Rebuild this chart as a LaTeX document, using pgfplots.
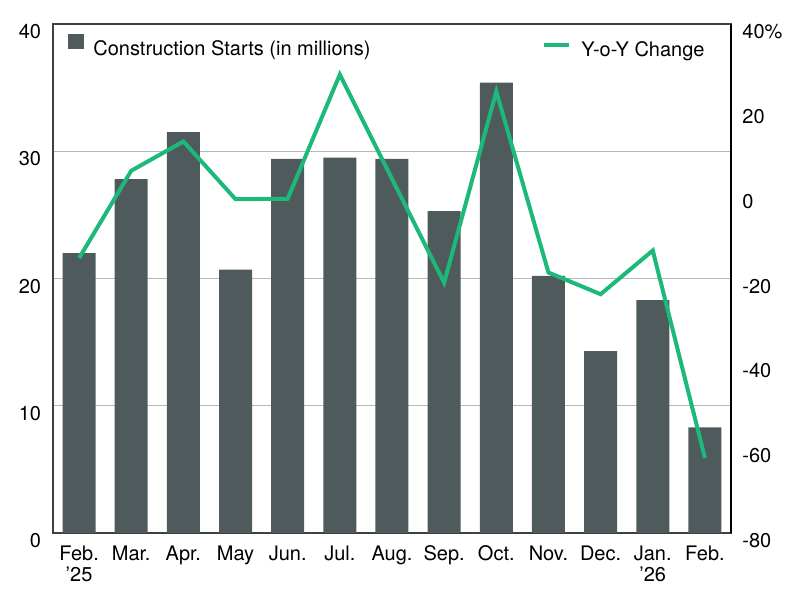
\documentclass[border=0pt]{standalone}
\usepackage{fontspec}
\setmainfont{TeX Gyre Heros}
\usepackage{pgfplots}
\pgfplotsset{compat=1.18}
\definecolor{barc}{HTML}{4E5A5C}
\definecolor{linec}{HTML}{1DB97A}
\begin{document}
\begin{tikzpicture}[font=\fontsize{10}{10.5}\selectfont]
\path[use as bounding box] (-26.5pt,-33.5pt) rectangle (373.5pt,266.5pt);
\begin{axis}[
  at={(0,0)}, anchor=south west,
  scale only axis, width=339pt, height=254.5pt,
  xmin=-0.5, xmax=12.5, ymin=0, ymax=40,
  ybar, bar width=16.5pt,
  ytick={0,10,20,30,40},
  xtick={0,...,12},
  xticklabels={{Feb.\\’25},Mar.,Apr.,May,Jun.,Jul.,Aug.,Sep.,Oct.,Nov.,Dec.,{Jan.\\’26},Feb.},
  major tick length=0pt,
  /pgf/number format/assume math mode=true,
  tick label style={font=\fontsize{10}{10.5}\selectfont},
  xticklabel style={anchor=north, inner sep=0pt, yshift=-6.3pt, align=center},
  yticklabel style={anchor=north east, inner sep=0pt, xshift=-5.8pt},
  ymajorgrids, grid style={draw=black!28, line width=0.5pt},
  axis line style={draw=black!75, line width=0.6pt},
  legend style={at={(0,1)}, anchor=north west, xshift=7.5pt, yshift=-5pt,
    draw=none, fill=none, inner sep=0pt, column sep=4.5pt,
    nodes={inner sep=0pt}, font=\fontsize{10}{10.5}\selectfont},
  legend image code/.code={\path[draw=none, fill=none] (0pt,-2.1pt) rectangle (8pt,7.5pt);
    \fill[barc, draw=none] (0pt,0.3pt) rectangle (8pt,7.8pt);},
]
\addplot[fill=barc, draw=none] coordinates {
 (0,22.0) (1,27.8) (2,31.5) (3,20.7) (4,29.4) (5,29.5) (6,29.4)
 (7,25.3) (8,35.4) (9,20.2) (10,14.3) (11,18.3) (12,8.3)};
\addlegendentry{Construction Starts (in millions)}
\end{axis}
\begin{axis}[
  at={(0,0)}, anchor=south west,
  scale only axis, width=339pt, height=254.5pt,
  xmin=-0.5, xmax=12.5, ymin=-80, ymax=40,
  axis x line=none, axis y line*=right,
  axis line style={draw=black, line width=0.6pt},
  ytick={-80,-60,-40,-20,0,20,40},
  yticklabels={-80,-60,-40,-20,0,20,40\%},
  major tick length=0pt,
  tick label style={font=\fontsize{10}{10.5}\selectfont},
  yticklabel style={anchor=north west, inner sep=0pt, xshift=5.5pt},
  legend style={at={(1,1)}, anchor=north east, xshift=-13pt, yshift=-5.5pt,
    draw=none, fill=none, inner sep=0pt, column sep=5pt,
    nodes={inner sep=0pt}, font=\fontsize{10}{10.5}\selectfont},
  legend image code/.code={\path[draw=none, fill=none] (0pt,-2.1pt) rectangle (12.5pt,7.5pt);
    \draw[linec, line width=2pt] (0pt,2.7pt) -- (12.5pt,2.7pt);},
]
\addplot[linec, line width=2pt] coordinates {
 (0,-15.2) (1,5.4) (2,12.3) (3,-1.3) (4,-1.2) (5,28.1) (6,3.5)
 (7,-21.0) (8,24.1) (9,-18.6) (10,-23.7) (11,-13.4) (12,-62.3)};
\addlegendentry{Y-o-Y Change}
\end{axis}
\end{tikzpicture}
\end{document}
